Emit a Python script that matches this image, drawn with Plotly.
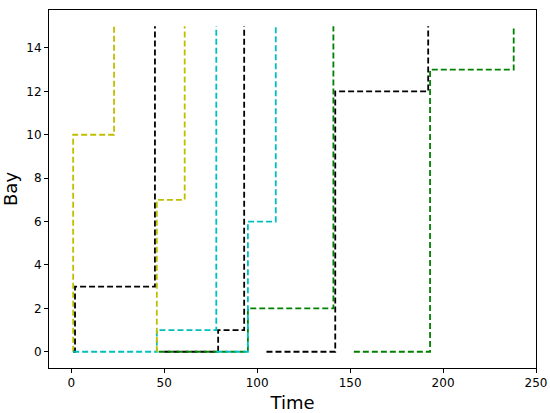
import plotly.graph_objects as go

# one entry per ship: colour, arrival (waiting at 0), berthing time, bay, departure
ship_colors = ['#bfbf00', 'black', '#00bfbf', '#bfbf00', 'black', 'green', '#00bfbf', 'black', 'green']
arrival = [1, 1, 1, 46, 50, 47, 78, 105, 152]
start = [1, 2, 46, 46, 79, 95, 95, 142, 193]
bay = [10, 3, 1, 7, 1, 2, 6, 12, 13]
depart = [23, 45, 78, 61, 93, 141, 110, 192, 238]
exit_level = 15

fig = go.Figure()

for c, a, s, b, d in zip(ship_colors, arrival, start, bay, depart):
    # wait at 0, move to bay, stay, leave to the top
    fig.add_trace(go.Scatter(
        x=[a, s, s, d, d],
        y=[0, 0, b, b, exit_level],
        mode='lines',
        line=dict(color=c, width=1.8, dash='6px,3px'),
        showlegend=False,
        hoverinfo='skip',
    ))

axis_style = dict(
    showgrid=False, zeroline=False, automargin=False,
    showline=True, linecolor='black', linewidth=1, mirror=True,
    ticks='outside', ticklen=4, tickwidth=1, tickcolor='black',
    tickfont=dict(family='DejaVu Sans', size=12, color='black'),
)

fig.update_xaxes(axis_style, range=[-12, 250], tickvals=[0, 50, 100, 150, 200, 250],
                 title=dict(text='Time', font=dict(family='DejaVu Sans', size=18, color='black'), standoff=6))
fig.update_yaxes(axis_style, range=[-0.75, 15.75], tickvals=[0, 2, 4, 6, 8, 10, 12, 14],
                 title=dict(text='Bay', font=dict(family='DejaVu Sans', size=18, color='black'), standoff=6))

fig.update_layout(
    width=550, height=413,
    margin=dict(l=49, r=14, t=10, b=45),
    plot_bgcolor='white', paper_bgcolor='white',
)

# drop the default page margin so the figure sits at the window's corner
fig.write_html("out.html", config={'displayModeBar': False},
               post_script="document.body.style.margin='0';")
